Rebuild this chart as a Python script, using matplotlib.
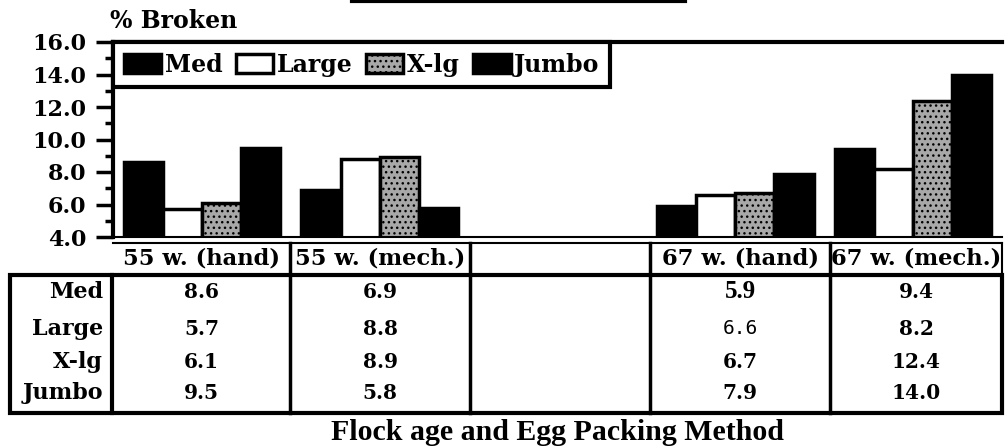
import numpy as np
import matplotlib
matplotlib.use('Agg')
import matplotlib.pyplot as plt
from matplotlib.lines import Line2D
from matplotlib.patches import Rectangle

# data
categories = ['55 w. (hand)', '55 w. (mech.)', '', '67 w. (hand)', '67 w. (mech.)']
sizes = ['Med', 'Large', 'X-lg', 'Jumbo']
med = [8.6, 6.9, np.nan, 5.9, 9.4]
large = [5.7, 8.8, np.nan, 6.6, 8.2]
xlg = [6.1, 8.9, np.nan, 6.7, 12.4]
jumbo = [9.5, 5.8, np.nan, 7.9, 14.0]
series = [med, large, xlg, jumbo]

W, H = 1005, 446
ftsize = 16
serif = 'DejaVu Serif'

def fx(x):
    return x / W

def fy(y):
    return 1 - y / H

fig = plt.figure(figsize=(W / 100, H / 100), dpi=100)
ax = fig.add_axes([fx(113), fy(237), fx(1002) - fx(113), fy(42) - fy(237)])

styles = [dict(color='black', edgecolor='black'),
          dict(color='white', edgecolor='black'),
          dict(color='#a8a8a8', edgecolor='black', hatch='...'),
          dict(color='black', edgecolor='black')]

x = np.arange(len(categories))
bw = 0.22
for i, (vals, st) in enumerate(zip(series, styles)):
    ax.bar(x + (i - 1.5) * bw, vals, bw, label=sizes[i], linewidth=2.5, **st)

ax.set_xlim(-0.5, 4.5)
ax.set_ylim(4, 16)
ax.set_yticks(np.arange(4, 17, 2))
ax.set_yticklabels(['%.1f' % v for v in np.arange(4, 17, 2)],
                   fontsize=ftsize, fontfamily=serif, fontweight='bold')
ax.set_yticks(np.arange(5, 16, 2), minor=True)
ax.tick_params(axis='y', which='major', length=12, width=2.5, pad=7)
ax.tick_params(axis='y', which='minor', length=6, width=2.5)
ax.set_xticks([])
for s in ['left', 'top']:
    ax.spines[s].set_linewidth(3)
ax.spines['right'].set_visible(False)
ax.spines['bottom'].set_linewidth(1.5)

leg = ax.legend(loc='upper left', bbox_to_anchor=(0, 1), borderaxespad=0, ncol=4,
                prop=dict(family=serif, weight='bold', size=17), frameon=True,
                fancybox=False, framealpha=1, handlelength=1.6, handleheight=0.9,
                handletextpad=0.15, columnspacing=0.55, borderpad=0.45)
leg.get_frame().set_edgecolor('black')
leg.get_frame().set_linewidth(3)

fig.text(fx(110), fy(21), '% Broken', fontsize=17, fontfamily=serif,
         fontweight='bold', va='center', ha='left')

# stray rule at the top
fig.add_artist(Line2D([fx(352), fx(685)], [fy(1), fy(1)], color='black', lw=3))

# header row with category names
col_edges = [113, 290, 470, 650, 830, 1002]
fig.add_artist(Line2D([fx(113), fx(1002)], [fy(243), fy(243)], color='black', lw=1.5))
for i, c in enumerate(categories):
    xc = (col_edges[i] + col_edges[i + 1]) / 2
    fig.text(fx(xc), fy(258), c, fontsize=16.3, fontfamily=serif,
             fontweight='bold', ha='center', va='center')

# table of values
fig.add_artist(Rectangle((fx(10), fy(413)), fx(1002) - fx(10), fy(275) - fy(413),
                         fill=False, lw=3, edgecolor='black', transform=fig.transFigure))
fig.add_artist(Line2D([fx(112), fx(112)], [fy(275), fy(413)], color='black', lw=3))
for xe in col_edges[1:-1]:
    fig.add_artist(Line2D([fx(xe), fx(xe)], [fy(243), fy(413)], color='black', lw=2.5))
fig.add_artist(Line2D([fx(1002), fx(1002)], [fy(243), fy(275)], color='black', lw=1.5))

row_y = [292, 329, 362, 393]
odd_fonts = {(0, 3): dict(family='Liberation Serif', weight='bold', size=18),
             (1, 3): dict(family='DejaVu Sans Mono', weight='normal', size=14)}
for r, (name, vals) in enumerate(zip(sizes, series)):
    fig.text(fx(103), fy(row_y[r]), name, fontsize=ftsize, fontfamily=serif,
             fontweight='bold', ha='right', va='center')
    for c, v in enumerate(vals):
        if np.isnan(v):
            continue
        xc = (col_edges[c] + col_edges[c + 1]) / 2
        f = odd_fonts.get((r, c), dict(family=serif, weight='bold', size=14.5))
        fig.text(fx(xc), fy(row_y[r]), '%.1f' % v, fontsize=f['size'],
                 fontfamily=f['family'], fontweight=f['weight'],
                 ha='center', va='center')

fig.text(fx(557), fy(432), 'Flock age and Egg Packing Method', fontsize=21.5,
         fontfamily='Liberation Serif', fontweight='bold', ha='center', va='center')

plt.savefig('out.png', dpi=100)
